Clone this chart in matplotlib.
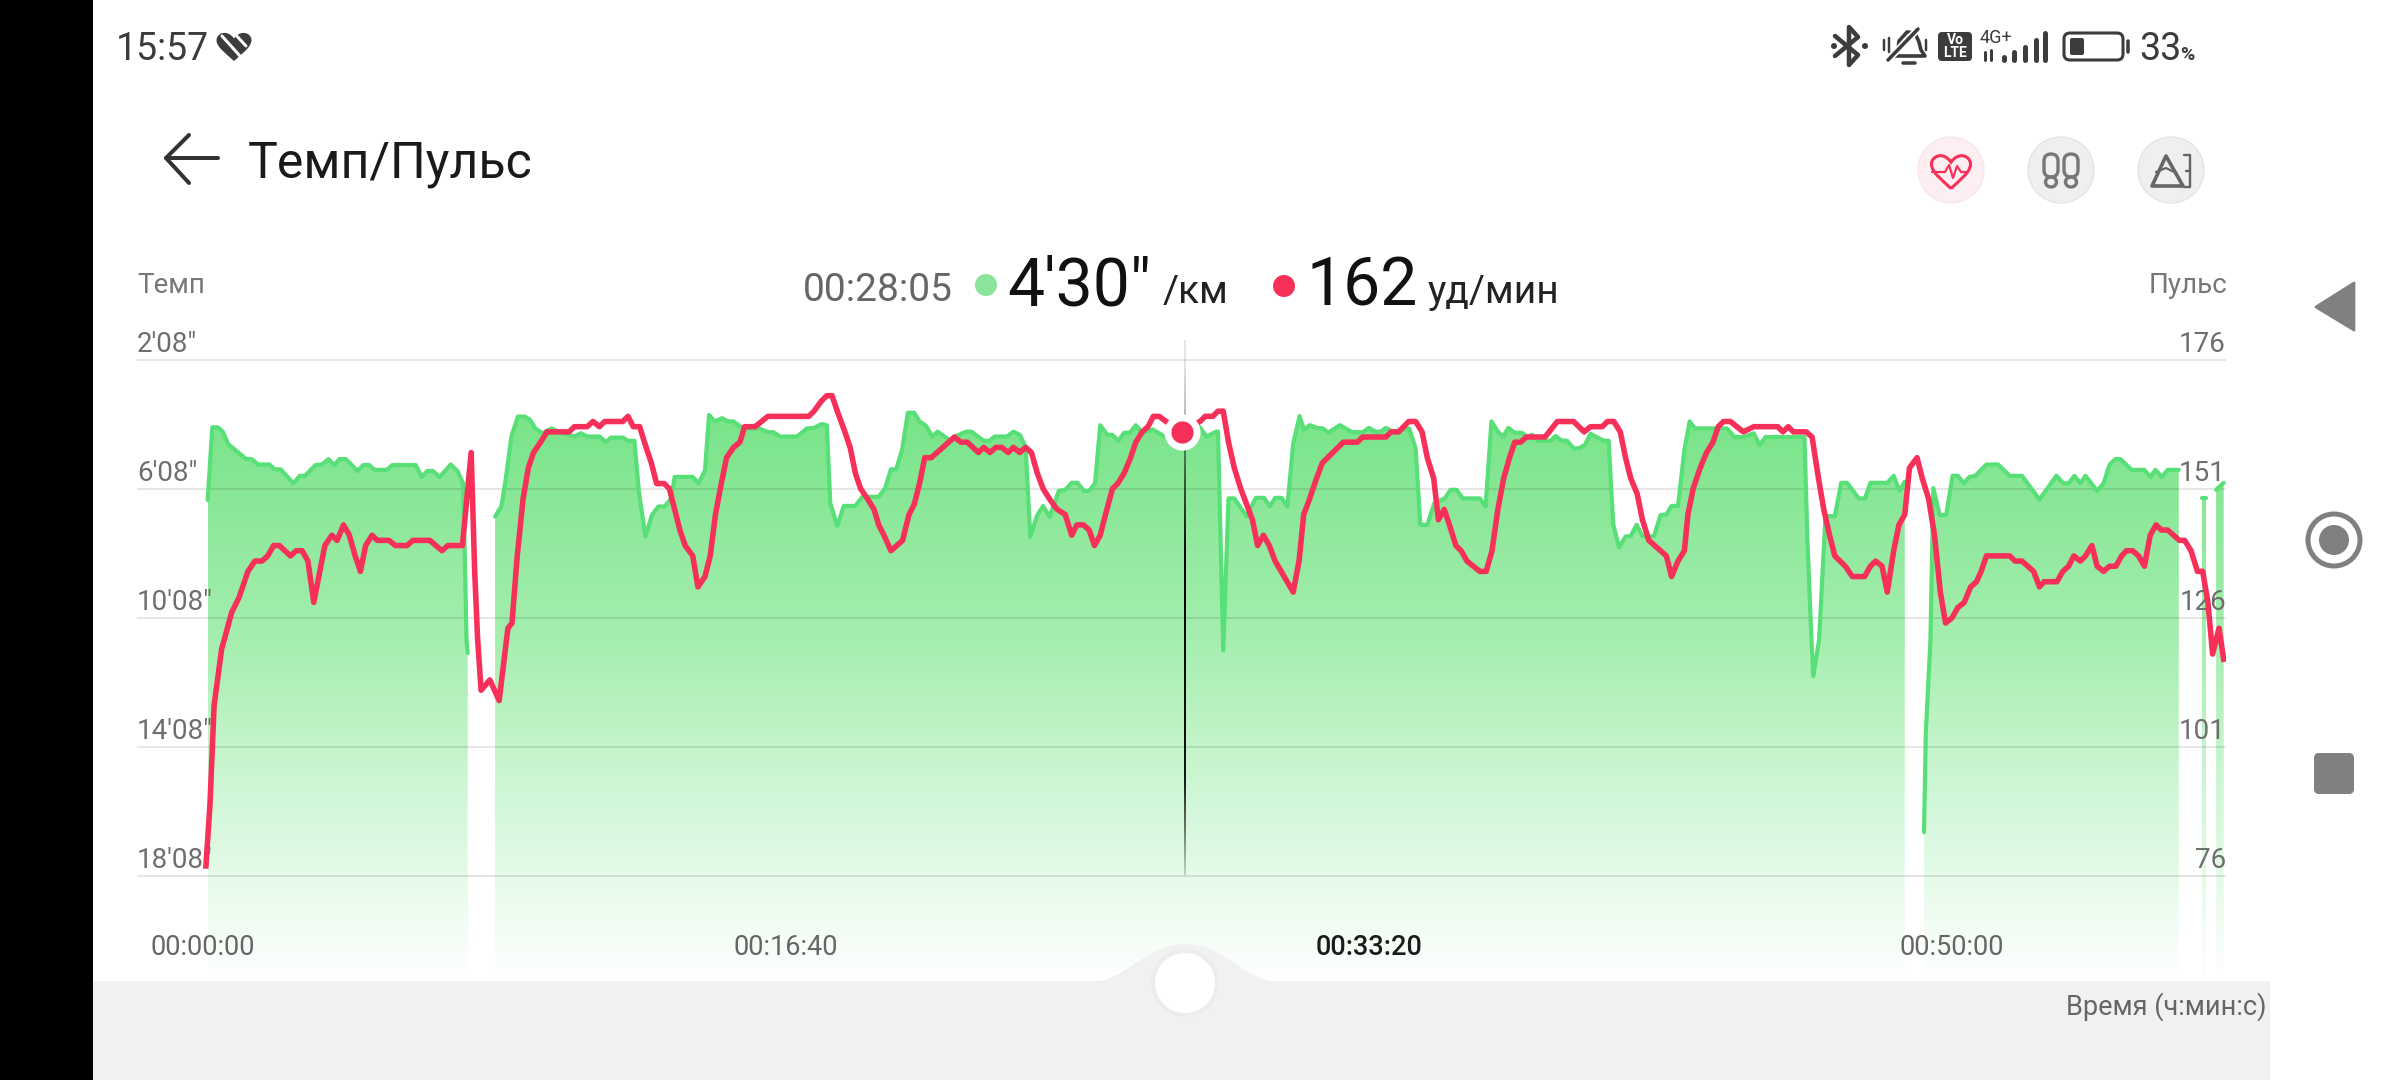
#!/usr/bin/env python3
"""Темп/Пульс screen: pace area and heart-rate line, with the phone chrome round them."""
import numpy as np
import matplotlib
matplotlib.use("Agg")
import matplotlib.pyplot as plt
from matplotlib.patches import Circle, Ellipse, FancyBboxPatch, PathPatch, Polygon, Rectangle
from matplotlib.path import Path
from matplotlib.transforms import ScaledTranslation

plt.rcParams["font.family"] = ["Roboto", "DejaVu Sans"]

# heart rate, seconds / bpm
HR_T = [5, 12, 19, 32, 37, 49, 62, 77, 89, 101, 111, 121, 131, 150, 160, 170, 180, 190, 209, 221, 230, 241, 251, 261,
        270, 279, 290, 299, 319, 330, 350, 360, 389, 410, 420, 445, 460, 466, 471, 477, 492, 508, 523,
        530, 539, 549, 558, 567, 579, 590, 628, 637, 659, 669, 680, 689, 720, 729, 738, 749, 760, 769, 778, 791, 800,
        809, 818, 827, 840, 849, 861, 870, 879, 889, 898, 910, 921]
HR_V = [78, 90, 109, 120, 122, 127, 130, 135, 137, 137, 138, 140, 140, 138, 139, 139, 137, 129, 140, 142, 141, 144,
        142, 138, 135, 140, 142, 141, 141, 140, 140, 141, 141, 139, 140, 140, 158, 135, 122, 112, 114,
        110, 124, 125, 138, 149, 155, 158, 160, 162, 162, 163, 163, 164, 163, 164, 164, 165, 163, 163, 159, 156, 152,
        152, 151, 147, 143, 140, 138, 132, 134, 138, 146, 152, 157, 159, 160]
HR_T2 = [929, 947, 969, 1039, 1048, 1061, 1070, 1079, 1088, 1101, 1110, 1119, 1128, 1140, 1151, 1159, 1168, 1180, 1200,
         1211, 1220, 1229, 1238, 1249, 1289, 1300, 1311, 1330, 1339, 1350, 1360, 1370, 1381, 1390, 1401, 1411, 1421,
         1431, 1441, 1452, 1465, 1479, 1490, 1499, 1510, 1520, 1529, 1539, 1548, 1560, 1569, 1580, 1591, 1600, 1611,
         1621, 1630, 1640, 1652, 1680, 1710, 1719, 1732, 1741, 1750, 1759, 1769, 1780, 1800, 1809, 1819, 1829, 1839,
         1870, 1880, 1888, 1898, 1910, 1920, 1956, 1980, 1989, 2029, 2038, 2051, 2068, 2080, 2091, 2100, 2111, 2119]
HR_V2 = [163, 163, 165, 165, 166, 168, 169, 169, 166, 162, 159, 154, 151, 149, 147, 144, 142, 139, 141, 146, 148, 152,
         157, 157, 161, 160, 160, 158, 159, 158, 159, 159, 158, 159, 158, 159, 158, 154, 151, 149, 147, 146, 142, 144,
         144, 143, 140, 142, 146, 151, 152, 154, 157, 160, 162, 163, 165, 165, 164, 162, 164, 165, 165, 166, 166, 160,
         155, 151, 145, 140, 142, 140, 137, 131, 137, 146, 149, 153, 156, 160, 160, 161, 161, 162, 162, 164, 164, 162,
         157, 153, 145]
HR_T3 = [2129, 2138, 2149, 2158, 2168, 2190, 2201, 2211, 2221, 2231, 2241, 2250, 2260, 2270, 2302, 2323, 2351, 2369,
         2380, 2400, 2409, 2420, 2431, 2440, 2449, 2460, 2469, 2480, 2510, 2519, 2530, 2541, 2547, 2556, 2568, 2579,
         2590, 2599, 2608, 2620, 2642, 2660, 2701, 2710, 2719, 2728, 2750, 2760, 2771, 2780, 2790, 2799, 2817, 2829,
         2850, 2860, 2869, 2880, 2889, 2900, 2909, 2919, 2927, 2940, 2949, 2960, 2970, 2980, 2989, 3000, 3010, 3021,
         3032, 3042, 3050, 3059, 3099, 3108, 3120, 3140, 3150, 3158, 3180, 3190, 3200, 3209, 3220, 3229, 3240, 3249,
         3260, 3270, 3281, 3291, 3299, 3310, 3320, 3330, 3340, 3350, 3359, 3370, 3390, 3399, 3410, 3421, 3430, 3439,
         3447, 3458, 3466]
HR_V3 = [147, 144, 140, 139, 137, 135, 135, 139, 147, 153, 157, 160, 160, 161, 161, 164, 164, 162, 163, 163, 164, 164,
         162, 157, 153, 150, 145, 141, 138, 134, 137, 139, 146, 151, 155, 158, 160, 163, 164, 164, 162, 163, 163, 162,
         163, 162, 162, 161, 153, 147, 142, 138, 136, 134, 134, 136, 137, 136, 131, 139, 144, 146, 155, 157, 153, 149,
         142, 131, 125, 126, 128, 129, 132, 133, 135, 138, 138, 137, 137, 135, 132, 133, 133, 135, 136, 138, 137, 138,
         140, 136, 135, 136, 136, 138, 139, 139, 138, 136, 142, 144, 143, 143, 141, 141, 139, 135, 135, 129, 119, 124,
         118]

# pace, seconds / seconds per km, one pair of lists per recorded stretch
PACE_T_A = [8, 16, 25, 34, 43, 52, 62, 74, 83, 95, 114, 123, 133, 155, 166, 175, 193, 204, 215, 225, 234, 245, 265,
            275, 285, 294, 315, 325, 365, 375, 385, 394, 406, 425, 437, 446, 449, 452, 454]
PACE_V_A = [389, 254, 254, 262, 285, 293, 302, 313, 313, 323, 323, 332, 332, 358, 344, 344, 324, 323, 313, 324, 313,
            313, 335, 324, 324, 333, 333, 324, 324, 346, 335, 335, 346, 323, 336, 358, 488, 649, 673]
PACE_T_B = [501, 512, 519, 529, 540, 552, 561, 570, 582, 598, 610, 637, 648, 659, 680, 691, 700, 720, 729, 740, 748,
            759, 770, 781, 792, 803, 809, 840, 850, 861, 868, 878, 890, 901, 910, 921, 932, 954, 969, 978, 990, 1019,
            1036, 1048, 1061, 1070, 1076, 1088, 1099, 1119, 1131, 1159, 1170, 1180, 1189, 1199, 1209, 1220, 1229,
            1240, 1251, 1260, 1281, 1290, 1309, 1318, 1339, 1349, 1358, 1379, 1390, 1401, 1411, 1419, 1431, 1441,
            1452, 1468, 1479, 1490, 1500, 1511, 1520, 1530, 1539, 1551, 1560, 1570, 1580, 1590, 1600, 1612, 1629,
            1649, 1685, 1710, 1721, 1738, 1741, 1750, 1759, 1769, 1790, 1806, 1820, 1830, 1839, 1850, 1860, 1870,
            1881, 1888, 1899, 1910, 1921, 1930, 1950, 1971, 1989, 2000, 2011, 2020, 2029, 2040, 2069, 2080, 2088,
            2100, 2112, 2130, 2140, 2150, 2161, 2190, 2200, 2210, 2221, 2230, 2239, 2250, 2262, 2271, 2280, 2290,
            2311, 2320, 2329, 2340, 2351, 2360, 2370, 2380, 2394, 2403, 2411, 2419, 2429, 2440, 2449, 2459, 2469,
            2480, 2489, 2500, 2510, 2519, 2530, 2541, 2550, 2559, 2593, 2614, 2627, 2642, 2660, 2670, 2680, 2747,
            2752, 2759, 2762, 2772, 2783, 2799, 2810, 2820, 2840, 2851, 2860, 2889, 2900, 2910, 2919]
PACE_V_B = [420, 400, 352, 271, 234, 234, 240, 256, 265, 256, 262, 271, 265, 271, 271, 281, 273, 273, 279, 279, 377,
            457, 417, 401, 401, 386, 346, 346, 358, 334, 231, 243, 237, 243, 243, 252, 256, 256, 263, 263, 271, 271,
            256, 255, 248, 250, 395, 437, 400, 400, 383, 383, 367, 332, 332, 296, 227, 227, 243, 251, 271, 262, 278,
            271, 262, 262, 279, 279, 271, 271, 262, 268, 290, 457, 417, 400, 420, 372, 370, 357, 357, 372, 372, 358,
            250, 268, 268, 279, 264, 264, 250, 265, 258, 271, 270, 254, 271, 262, 262, 668, 386, 386, 419, 385, 385,
            401, 385, 385, 401, 284, 233, 258, 250, 255, 256, 264, 250, 263, 263, 255, 262, 262, 255, 262, 256, 293,
            435, 435, 395, 386, 370, 370, 386, 386, 401, 243, 262, 271, 255, 264, 264, 271, 268, 279, 279, 270, 278,
            279, 293, 293, 287, 266, 274, 279, 279, 435, 477, 457, 456, 435, 456, 457, 456, 417, 416, 400, 400, 296,
            243, 256, 256, 256, 272, 272, 265, 287, 272, 272, 463, 649, 716, 649, 419, 419, 357, 357, 386, 386, 357,
            357, 344, 372, 355]
PACE_T_C = [2952, 2955, 2963, 2968, 2979, 2990, 3001, 3010, 3020, 3030, 3040, 3059, 3079, 3099, 3120, 3150, 3179, 3191,
            3200, 3210, 3220, 3229, 3249, 3260, 3270, 3280, 3289, 3308, 3330, 3340, 3349, 3360, 3370, 3389]
PACE_V_C = [1006, 824, 649, 367, 417, 417, 344, 344, 358, 346, 344, 323, 323, 344, 344, 388, 344, 358, 358, 344, 358,
            344, 372, 358, 324, 313, 313, 333, 333, 346, 333, 346, 333, 333]
PACE_T_D = [3429, 3436]
PACE_V_D = [386, 386]
PACE_T_E = [3453, 3466]
PACE_V_E = [370, 357]

PACE_TICKS = [128, 368, 608, 848, 1088]
PACE_LABELS = ["2'08\"", "6'08\"", "10'08\"", "14'08\"", "18'08\""]
HR_TICKS = [176, 151, 126, 101, 76]
TIME_TICKS = [0, 1000, 2000, 3000]
TIME_LABELS = ["00:00:00", "00:16:40", "00:33:20", "00:50:00"]
CURSOR_T = 1685
CURSOR_DOT = (1680, 162)

W, H = 2400, 1080
LEFT, RIGHT = 137, 2226      # chart frame in pixels
TOP, BOT = 340, 985
PX_PER_SEC = 0.583
T0_PX = 203
RED = "#F7305A"
LINE_GREEN = "#58DF77"
GREY_TXT = "#6E6E6E"
DARK = "#3C3C3C"

fig = plt.figure(figsize=(W / 100, H / 100), dpi=100, facecolor="white")

# chart axes: left pace, right heart rate, same pixel frame
ax = fig.add_axes([LEFT / W, 1 - BOT / H, (RIGHT - LEFT) / W, (BOT - TOP) / H], zorder=1)
ax.patch.set_visible(False)
xlim = ((LEFT - T0_PX) / PX_PER_SEC, (RIGHT - T0_PX) / PX_PER_SEC)
p_scale, h_scale = 240 / 129.2, 25 / 129.2
ylim_p = (128 + (BOT - 359.5) * p_scale, 128 - 19.5 * p_scale)
ylim_h = (176 - (BOT - 359.5) * h_scale, 176 + 19.5 * h_scale)

# gradient fill under each stretch of pace
ys = np.linspace(TOP, BOT, 300)
stops = [340, 420, 640, 800, 981]
grad = np.stack([np.interp(ys, stops, [110, 122, 165, 210, 255]),
                 np.interp(ys, stops, [224, 228, 238, 247, 255]),
                 np.interp(ys, stops, [126, 138, 175, 216, 255])], axis=1)[:, None, :] / 255
for tt, vv in [(PACE_T_A, PACE_V_A), (PACE_T_B, PACE_V_B), (PACE_T_C, PACE_V_C),
               (PACE_T_D, PACE_V_D), (PACE_T_E, PACE_V_E)]:
    poly = ax.fill_between(tt, vv, ylim_p[0], color="none", lw=0)
    im = ax.imshow(grad, extent=(tt[0], tt[-1], ylim_p[0], ylim_p[1]), origin="upper",
                   aspect="auto", zorder=1, interpolation="bilinear")
    im.set_clip_path(poly.get_paths()[0], ax.transData)
    ax.plot(tt, vv, color=LINE_GREEN, lw=3, solid_joinstyle="round", solid_capstyle="round", zorder=3)

# cursor line, fading at both ends
cy = np.linspace(TOP, BOT, 300)
alpha = np.interp(cy, [360, 420, 560, 780, 876, 877], [0.1, 0.3, 1, 0.9, 0.15, 0])
cur = np.zeros((300, 1, 4))
cur[:, 0, 3] = alpha
ax.imshow(cur, extent=(CURSOR_T - 1.7, CURSOR_T + 1.7, ylim_p[0], ylim_p[1]), origin="upper", aspect="auto", zorder=2.8)

ax.set_xlim(*xlim)
ax.set_ylim(*ylim_p)
ax.set_yticks(PACE_TICKS, PACE_LABELS)
ax.set_xticks(TIME_TICKS, TIME_LABELS)
ax.set_axisbelow(False)
ax.grid(axis="y", color="black", alpha=0.1, lw=1.4)
ax.grid(axis="x", visible=False)
ax.tick_params(axis="y", length=0, pad=0, labelsize=20, labelcolor=GREY_TXT)
ax.tick_params(axis="x", length=0, pad=-27, labelsize=19.5, labelcolor="#666666")
lift = ScaledTranslation(0, 8 / 100, fig.dpi_scale_trans)
for lab in ax.get_yticklabels():
    lab.set_ha("left")
    lab.set_va("baseline")
    lab.set_transform(lab.get_transform() + lift)
for lab in ax.get_xticklabels():
    lab.set_va("center")
ax.get_xticklabels()[2].set_color("#1C1C1C")
ax.get_xticklabels()[2].set_fontweight("medium")
for s in ax.spines.values():
    s.set_visible(False)

ax2 = ax.twinx()
ax2.set_zorder(2)
ax2.patch.set_visible(False)
ax2.plot(HR_T + HR_T2 + HR_T3, HR_V + HR_V2 + HR_V3, color=RED, lw=4, solid_joinstyle="round", zorder=3)
ax2.plot(*CURSOR_DOT, "o", ms=26, mfc="white", mec="none", zorder=4)
ax2.plot(*CURSOR_DOT, "o", ms=16, mfc=RED, mec="none", zorder=5)
ax2.set_ylim(*ylim_h)
ax2.set_yticks(HR_TICKS)
ax2.tick_params(axis="y", length=0, pad=0, labelsize=20, labelcolor=GREY_TXT)
for lab in ax2.get_yticklabels():
    lab.set_ha("right")
    lab.set_va("baseline")
    lab.set_transform(lab.get_transform() + lift)
for s in ax2.spines.values():
    s.set_visible(False)

# everything else sits on a pixel-coordinate overlay
ui = fig.add_axes([0, 0, 1, 1], zorder=5)
ui.set_xlim(0, W)
ui.set_ylim(H, 0)
ui.axis("off")
ui.patch.set_visible(False)


def txt(x, y, s, size, color=DARK, ha="left", **kw):
    return ui.text(x, y, s, fontsize=size, color=color, ha=ha, va="baseline", **kw)


def pl(xs, ys, color=DARK, w=3.0):
    ui.plot(xs, ys, color=color, lw=w * 0.72, solid_capstyle="round", solid_joinstyle="round")


def heart(cx, cy, w, h):
    v = [(cx, cy + h / 2),
         (cx - w * .2, cy + h * .28), (cx - w * .5, cy + h * .05), (cx - w * .5, cy - h * .2),
         (cx - w * .5, cy - h * .42), (cx - w * .2, cy - h * .58), (cx, cy - h * .25),
         (cx + w * .2, cy - h * .58), (cx + w * .5, cy - h * .42), (cx + w * .5, cy - h * .2),
         (cx + w * .5, cy + h * .05), (cx + w * .2, cy + h * .28), (cx, cy + h / 2)]
    return Path(v, [Path.MOVETO] + [Path.CURVE4] * 12)


ui.add_patch(Rectangle((0, 0), 93, H, fc="black", ec="none"))
ui.add_patch(Rectangle((93, 981), 2270 - 93, 99, fc="#F1F1F1", ec="none"))
bump = Path([(1091, 982), (1125, 982), (1145, 944), (1185, 944), (1225, 944), (1245, 982), (1279, 982), (1091, 982)],
            [Path.MOVETO] + [Path.CURVE4] * 6 + [Path.CLOSEPOLY])
ui.add_patch(PathPatch(bump, fc="#F1F1F1", ec="none"))
ui.add_patch(Circle((1185, 983), 34, fc="#ECECEC", ec="none"))
ui.add_patch(Circle((1185, 983), 30, fc="white", ec="none"))
txt(2266, 1015, "Время (ч:мин:с)", 19.5, "#666666", ha="right")

# status bar, left
txt(116, 60, "15:57", 27)
ui.add_patch(PathPatch(heart(234, 46, 35, 30), fc=DARK, ec="none"))
pl([222, 240], [36, 56], "white", 3)
pl([234, 246], [33, 46], "white", 3)

# status bar, right
pl([1835, 1858, 1849, 1849, 1858, 1835], [36, 55, 65, 27, 37, 56], DARK, 4.5)
ui.add_patch(Circle((1834, 46), 3, fc=DARK))
ui.add_patch(Circle((1865, 46), 3, fc=DARK))
ui.add_patch(Polygon([(1893, 56), (1898, 50), (1899, 41), (1907, 32), (1915, 33), (1919, 42), (1921, 50), (1925, 56)],
                     closed=True, fc="none", ec=DARK, lw=2.6, joinstyle="round"))
pl([1888, 1918], [60, 29], "white", 7)
pl([1888, 1918], [60, 29], DARK, 3.5)
pl([1884, 1884], [40, 50], DARK, 2.5)
pl([1889, 1889], [38, 52], DARK, 2.5)
pl([1926, 1926], [40, 50], DARK, 2.5)
pl([1903, 1915], [63, 63], DARK, 3.5)
ui.add_patch(FancyBboxPatch((1938, 32), 34, 29, boxstyle="round,pad=0,rounding_size=4", fc=DARK, ec="none"))
ui.text(1955, 40, "Vo", fontsize=10, color="white", ha="center", va="center", fontweight="bold")
ui.text(1955, 53, "LTE", fontsize=10, color="white", ha="center", va="center", fontweight="bold")
txt(1980, 43, "4G+", 13)
pl([1985, 1985], [52, 60], DARK, 3)
pl([1991, 1991], [50, 60], DARK, 3)
for bx, top in zip([2004, 2014, 2025, 2036, 2045], [57, 52, 47, 40, 33]):
    pl([bx, bx], [top, 60], DARK, 5)
ui.add_patch(FancyBboxPatch((2064, 33), 59, 27, boxstyle="round,pad=0,rounding_size=6", fc="none", ec=DARK, lw=2.2))
ui.add_patch(FancyBboxPatch((2070, 38), 14, 17, boxstyle="round,pad=0,rounding_size=2", fc=DARK, ec="none"))
pl([2128, 2128], [41, 52], DARK, 3.5)
txt(2139, 60, "33", 27)
txt(2180, 60, "%", 14, fontweight="bold")

# header
pl([189, 166, 218], [135, 158, 158], "#333333", 4)
pl([166, 189], [158, 183], "#333333", 4)
txt(248, 178, "Темп/Пульс", 36, "#1A1A1A")

# three round buttons
ui.add_patch(Circle((1951, 170), 33, fc="#FDEEF1", ec="#FBE6EA", lw=1))
ui.add_patch(Circle((2061, 170), 33, fc="#EFEFEF", ec="#E4E4E4", lw=1))
ui.add_patch(Circle((2171, 170), 33, fc="#EFEFEF", ec="#E4E4E4", lw=1))
ui.add_patch(PathPatch(heart(1951, 171, 39, 35), fc="none", ec=RED, lw=2.2))
pl([1932, 1945, 1949, 1953, 1957, 1961, 1968], [172, 172, 165, 178, 166, 172, 172], RED, 2.2)
for sx in (2051, 2071):
    ui.add_patch(FancyBboxPatch((sx - 7, 154), 14, 23, boxstyle="round,pad=0,rounding_size=7", fc="none", ec="#777777", lw=2.4))
    ui.add_patch(Ellipse((sx, 182), 11, 10, fc="none", ec="#777777", lw=2.4))
ui.add_patch(Polygon([(2166, 156), (2152, 186), (2183, 186)], closed=True, fc="none", ec="#666666", lw=2.6, joinstyle="round"))
pl([2156, 2166, 2176, 2180], [172, 168, 173, 180], "#666666", 2.2)
pl([2184, 2190, 2190, 2184], [155, 155, 187, 187], "#666666", 2.4)
pl([2186, 2190], [171, 171], "#666666", 2.4)

# readout row
txt(137, 293, "Темп", 20, "#777777")
txt(2227, 293, "Пульс", 20, "#777777", ha="right")
txt(803, 301, "00:28:05", 28, "#666666")
ui.add_patch(Circle((986, 285), 11, fc="#8CE39A", ec="none"))
txt(1007, 306, "4'30\"", 47.5, "#111111")
txt(1163, 303, "/км", 28, "#222222")
ui.add_patch(Circle((1284, 286), 11, fc=RED, ec="none"))
txt(1306, 306, "162", 47.5, "#111111")
txt(1428, 303, "уд/мин", 28, "#222222")

# navigation keys
ui.add_patch(Polygon([(2316, 307), (2354, 283), (2354, 330)], closed=True, fc="#808080", ec="#808080", lw=2, joinstyle="round"))
ui.add_patch(Circle((2334, 540), 26, fc="none", ec="#808080", lw=3.6))
ui.add_patch(Circle((2334, 540), 15, fc="#808080", ec="none"))
ui.add_patch(FancyBboxPatch((2314, 753), 40, 41, boxstyle="round,pad=0,rounding_size=5", fc="#808080", ec="none"))

fig.savefig("out.png", dpi=100, facecolor="white")
